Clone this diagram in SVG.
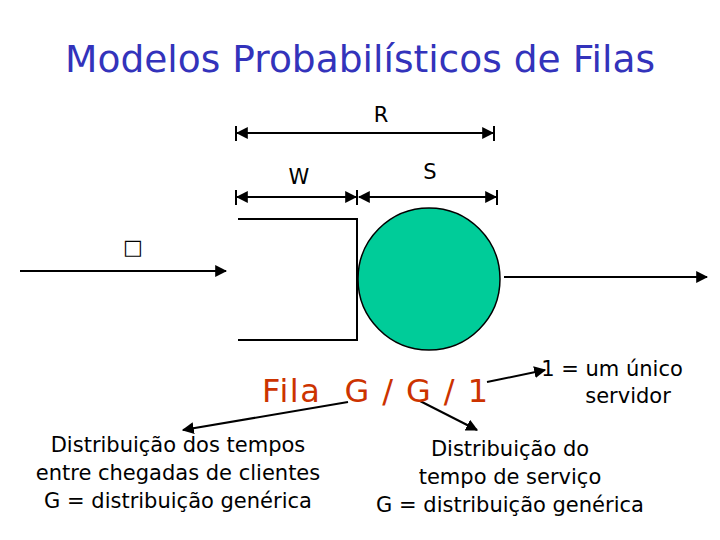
<svg xmlns="http://www.w3.org/2000/svg" width="720" height="540" viewBox="0 0 720 540">
<style>
text{font-family:"DejaVu Sans","Liberation Sans",sans-serif}
.l{stroke:#000;stroke-width:2;fill:none}
.t{font-size:21px;fill:#000;text-anchor:middle}
</style>
<defs>
<marker id="a" viewBox="0 0 10 10" refX="9" refY="5" markerWidth="6" markerHeight="6" orient="auto-start-reverse"><path d="M0,0L10,5L0,10z" fill="#000"/></marker>
</defs>
<rect width="720" height="540" fill="#fff"/>
<text x="65" y="72" font-size="38" fill="#3333bb" textLength="590" lengthAdjust="spacingAndGlyphs">Modelos Probabilísticos de Filas</text>
<g id="labels">
<text class="t" x="381" y="122" font-size="24">R</text>
<text class="t" x="299" y="184" font-size="24">W</text>
<text class="t" x="430" y="179" font-size="24">S</text>
<text class="t" x="133" y="254" font-size="30">□</text>
</g>
<g id="queue"><path class="l" d="M238,219H357V340H238"/></g>
<g id="server"><circle cx="429" cy="279" r="71" fill="#00cc99" stroke="#000" stroke-width="1.5"/></g>
<g id="connectors">
<path class="l" d="M236,126V141M494,126V141M236,190V205M357,190V205M497,190V205"/>
<line class="l" x1="237" y1="133" x2="493" y2="133" marker-start="url(#a)" marker-end="url(#a)"/>
<line class="l" x1="237" y1="197" x2="356" y2="197" marker-start="url(#a)" marker-end="url(#a)"/>
<line class="l" x1="359" y1="197" x2="496" y2="197" marker-start="url(#a)" marker-end="url(#a)"/>
<line class="l" x1="20" y1="271" x2="226" y2="271" marker-end="url(#a)"/>
<line class="l" x1="504" y1="277" x2="707" y2="277" marker-end="url(#a)"/>
<line class="l" x1="348" y1="402" x2="183" y2="430" marker-end="url(#a)"/>
<line class="l" x1="487" y1="382" x2="545" y2="370" marker-end="url(#a)"/>
<line class="l" x1="420" y1="401" x2="477" y2="430" marker-end="url(#a)"/>
</g>
<g id="fila"><text x="262" y="402" font-size="32" fill="#cc3300" textLength="226" lengthAdjust="spacing" xml:space="preserve">Fila  G / G / 1</text></g>
<g id="notes">
<text class="t" x="612" y="376">1 = um único</text>
<text class="t" x="628" y="403">servidor</text>
<text class="t" x="178" y="452">Distribuição dos tempos</text>
<text class="t" x="178" y="480">entre  chegadas de clientes</text>
<text class="t" x="178" y="508">G = distribuição genérica</text>
<text class="t" x="510" y="456">Distribuição do</text>
<text class="t" x="510" y="484">tempo de serviço</text>
<text class="t" x="510" y="512">G = distribuição genérica</text>
</g>
</svg>
